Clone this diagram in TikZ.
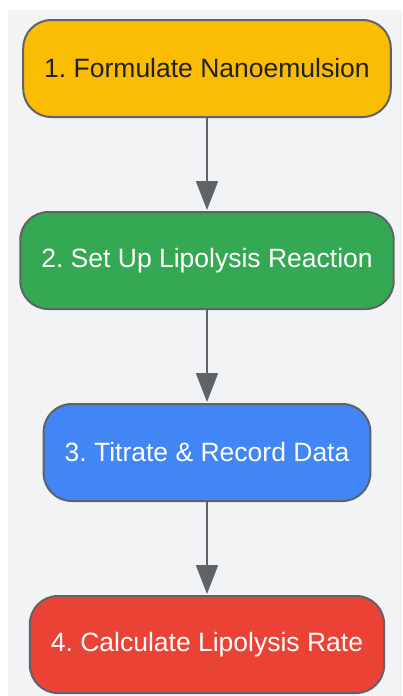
\documentclass[tikz,border=0pt]{standalone}
\usepackage{fontspec}
\setmainfont{Liberation Sans}
\usetikzlibrary{positioning,arrows.meta}
\definecolor{panel}{HTML}{F1F3F4}
\definecolor{edgegray}{HTML}{5F6368}
\definecolor{inkdark}{HTML}{202124}
\definecolor{stepyellow}{HTML}{FBBC04}
\definecolor{stepgreen}{HTML}{34A853}
\definecolor{stepblue}{HTML}{4285F4}
\definecolor{stepred}{HTML}{EA4335}
\frenchspacing

\begin{document}
\begin{tikzpicture}[x=1pt, y=-1pt, node distance=192pt, on grid, auto,
    font=\fontsize{26.5}{32}\selectfont,
    stage/.style={draw=edgegray, line width=2pt, rounded corners=28pt,
      minimum height=97pt, inner xsep=21pt, text=white},
    flow/.style={-{Triangle[length=29pt,width=22pt]}, draw=edgegray,
      line width=2pt, shorten >=1pt}]
    \useasboundingbox (0,0) rectangle (402,696);
    \fill[panel] (8,10) rectangle (402,696);%
    \node[stage, fill=stepyellow, text=inkdark] (form) at (207,68.5) {1. Formulate Nanoemulsion};%
    \node[stage, fill=stepgreen] (setup) [below=of form] {2. Set Up Lipolysis Reaction};%
    \node[stage, fill=stepblue] (titr) [below=of setup] {3. Titrate \& Record Data};%
    \node[stage, fill=stepred] (rate) [below=of titr] {4. Calculate Lipolysis Rate};%
    \path (form) edge[flow] (setup)%
          (setup) edge[flow] (titr)%
          (titr) edge[flow] (rate);
  \end{tikzpicture}
\end{document}
